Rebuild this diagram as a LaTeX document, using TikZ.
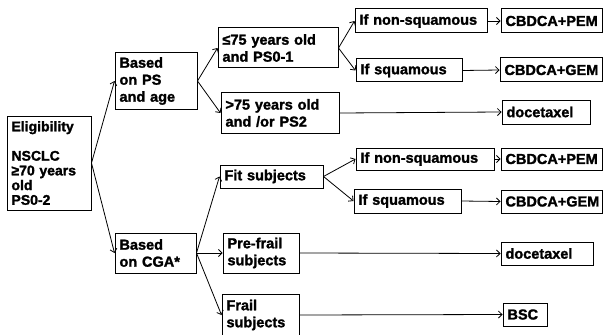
\documentclass[tikz,border=0pt]{standalone}
\usepackage{fontspec}
\setmainfont{Liberation Sans}[BoldFeatures={FakeBold=1.6}]
\usepackage{tikz}
\usetikzlibrary{arrows.meta}

\begin{document}
\begin{tikzpicture}[x=1pt, y=-1pt,
		box/.style={draw, line width=1pt, inner xsep=4.5pt, inner ysep=0pt, align=left,
			font=\bfseries\fontsize{14.5}{17}\selectfont},
		link/.style={line width=0.8pt, -{Straight Barb[length=3.5pt, width=7pt]}}]
			%%%%% START %%%%%
			\useasboundingbox (0, 0) rectangle (609, 334);
			
			\node[box, text width=75pt, minimum height=94pt, font=\bfseries\fontsize{14}{14.7}\selectfont] (elig) at (49, 163)
				{Eligibility\\[14.7pt]NSCLC\\≥70 years\\old\\PS0-2};
			
			\node[box, text width=73pt, minimum height=56pt] (ps) at (156, 81) {Based\\on PS\\and age};
			\node[box, text width=72pt, minimum height=40pt] (cga) at (155.5, 253) {Based\\on CGA*};
			
			\node[box, text width=111pt, minimum height=40pt] (young) at (278, 48) {≤75 years old\\and PS0-1};
			\node[box, text width=109pt, minimum height=40pt] (old) at (280, 113) {>75 years old\\and /or PS2};
			
			\node[box, text width=94pt, minimum height=23pt] (fit) at (271.5, 176.5) {Fit subjects};
			\node[box, text width=67pt, minimum height=40pt] (prefrail) at (261, 253) {Pre-frail\\subjects};
			\node[box, text width=68pt, minimum height=42pt] (frail) at (260.5, 315) {Frail\\subjects};
			
			\node[box, text width=123pt, minimum height=24pt] (nsqa) at (421, 21) {If non-squamous};
			\node[box, text width=97pt, minimum height=23pt] (sqa) at (409, 70.5) {If squamous};
			\node[box, text width=129pt, minimum height=22pt] (nsqb) at (425, 159) {If non-squamous};
			\node[box, text width=98pt, minimum height=24pt] (sqb) at (407.5, 201) {If squamous};
			
			\node[box, text width=92pt, minimum height=24pt] (pema) at (551.5, 21) {CBDCA+PEM};
			\node[box, text width=93pt, minimum height=24pt] (gema) at (551, 70) {CBDCA+GEM};
			\node[box, text width=79pt, minimum height=24pt] (doca) at (546, 112) {docetaxel};
			\node[box, text width=92pt, minimum height=22pt] (pemb) at (551.5, 159) {CBDCA+PEM};
			\node[box, text width=92pt, minimum height=23pt] (gemb) at (551.5, 201.5) {CBDCA+GEM};
			\node[box, text width=83pt, minimum height=23pt] (docb) at (547, 253.5) {docetaxel};
			\node[box, text width=35pt, minimum height=23pt] (bsc) at (525, 314.5) {BSC};
			
			\draw[link] (elig.east) -- (ps.west);
			\draw[link] (elig.east) -- (cga.west);
			
			\draw[link] (ps.east) -- (young.west);
			\draw[link] (ps.east) -- (old.west);
			\draw[link] (young.east) -- (nsqa.west);
			\draw[link] (young.east) -- (sqa.west);
			\draw[link] (nsqa.east) -- (pema.west);
			\draw[link] (sqa.east) -- (gema.west);
			\draw[link] (old.east) -- (doca.west);
			
			\draw[link] (cga.east) -- (fit.west);
			\draw[link] (cga.east) -- (prefrail.west);
			\draw[link] (cga.east) -- (frail.west);
			\draw[link] (fit.east) -- (nsqb.west);
			\draw[link] (fit.east) -- (sqb.west);
			\draw[link] (nsqb.east) -- (pemb.west);
			\draw[link] (sqb.east) -- (gemb.west);
			\draw[link] (prefrail.east) -- (docb.west);
			\draw[link] (frail.east) -- (bsc.west);
			%%%%% END %%%%%
\end{tikzpicture}
\end{document}
